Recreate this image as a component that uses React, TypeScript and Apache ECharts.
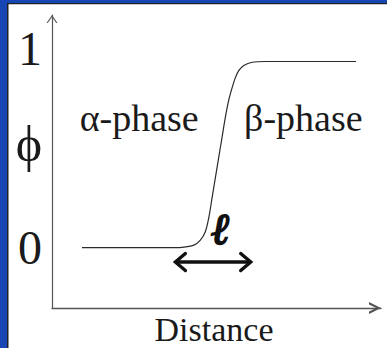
import React, { useEffect, useRef } from 'react';
import * as echarts from 'echarts';

// Order-parameter profile across the α/β interface
const distance = [9.1, 37.5, 39.5, 43.1, 45.1, 46.6, 47.7, 48.7, 49.7, 50.7, 51.7, 52.7, 53.7, 54.8, 55.8, 56.8, 58.3, 60.9, 64.9, 92.4];
const phi = [0, 0, 0.001, 0.013, 0.04, 0.085, 0.165, 0.272, 0.38, 0.487, 0.594, 0.701, 0.791, 0.862, 0.916, 0.952, 0.979, 0.996, 1, 1];
const phiTicks = [0, 1];
const phaseNames = ['α-phase', 'β-phase'];
const phaseAt = [26.5, 76.4]; // distance where each phase name sits
const interfaceSpan = [37.5, 60.4]; // extent of the interface width ℓ

const SERIF = 'Liberation Serif';
const INK = '#1a1a1a';
const AXIS = '#555';

export default function App() {
  const ref = useRef<HTMLDivElement>(null);

  useEffect(() => {
    document.body.style.margin = '0';
    const chart = echarts.init(ref.current!, null, { renderer: 'svg' });
    chart.setOption({
      animation: false,
      backgroundColor: '#fff',
      grid: { left: 52, right: 6, top: 15, bottom: 40, containLabel: false, outerBoundsMode: 'none' },
      xAxis: {
        type: 'value',
        min: 0,
        max: 100,
        name: 'Distance',
        nameLocation: 'middle',
        nameGap: 4,
        nameMoveOverlap: false,
        nameTextStyle: { fontFamily: SERIF, fontSize: 34, color: INK, padding: [0, 5, 0, 0] },
        axisLine: {
          onZero: false,
          lineStyle: { color: AXIS, width: 1.3 },
          symbol: ['none', 'path://M0,12 L6,0 L12,12 L9.4,12 L6,4.8 L2.6,12 Z'],
          symbolSize: [12, 12],
          symbolOffset: [0, -6],
        },
        axisTick: { show: false },
        axisLabel: { show: false },
        splitLine: { show: false },
      },
      yAxis: {
        type: 'value',
        min: -0.325,
        max: 1.25,
        name: '{p|ϕ}',
        nameLocation: 'middle',
        nameRotate: 0,
        nameGap: 10,
        nameMoveOverlap: false,
        nameTextStyle: {
          fontFamily: SERIF,
          fontSize: 50,
          color: INK,
          rich: { p: { fontFamily: SERIF, fontSize: 50, color: INK, padding: [0, 0, 36, 0] } },
        },
        axisLine: {
          onZero: false,
          lineStyle: { color: AXIS, width: 1.2 },
          symbol: ['none', 'path://M0,8 L5.5,0 L11,8 L9.7,8 L5.5,1.9 L1.3,8 Z'],
          symbolSize: [11, 8],
          symbolOffset: [0, -4],
        },
        axisTick: { show: false },
        splitLine: { show: false },
        axisLabel: {
          customValues: phiTicks,
          margin: 10,
          formatter: (v: number) => (v === 1 ? '{hi|1}' : '{lo|0}'),
          rich: {
            hi: { fontFamily: SERIF, fontSize: 48, color: INK, padding: [0, 0, 27, 0] },
            lo: { fontFamily: SERIF, fontSize: 48, color: INK },
          },
        },
      },
      series: [
        {
          type: 'line',
          data: distance.map((d, i) => [d, phi[i]]),
          showSymbol: false,
          smooth: 0.3,
          lineStyle: { color: '#2a2a2a', width: 1.2 },
        },
      ],
    });

    const px = (x: number, y: number) => chart.convertToPixel({ gridIndex: 0 }, [x, y]) as number[];

    const [ax, ay] = px(interfaceSpan[0], -0.078);
    const [bx] = px(interfaceSpan[1], -0.078);
    const head = 10;
    const spread = 8.5;
    const ell = px((interfaceSpan[0] + interfaceSpan[1]) / 2 + 2.4, 0.1);

    chart.setOption({
      graphic: [
        // slide frame
        { type: 'rect', shape: { x: 0, y: 0, width: 7, height: 348 }, style: { fill: '#1746b4' }, silent: true },
        { type: 'rect', shape: { x: 0, y: 0, width: 387, height: 3 }, style: { fill: '#1746b4' }, silent: true },
        { type: 'rect', shape: { x: 7, y: 3, width: 1.5, height: 345 }, style: { fill: '#222' }, silent: true },
        { type: 'rect', shape: { x: 7, y: 3, width: 380, height: 1.2 }, style: { fill: '#222' }, silent: true },
        // phase names
        ...phaseNames.map((t, i) => {
          const [x, y] = px(phaseAt[i], 0.697);
          return {
            type: 'text',
            x,
            y,
            silent: true,
            style: { text: t, fontFamily: SERIF, fontSize: 38, fill: INK, textAlign: 'center', textVerticalAlign: 'middle' },
          };
        }),
        // interface width ℓ
        {
          type: 'text',
          x: ell[0],
          y: ell[1],
          silent: true,
          style: {
            text: 'ℓ',
            fontFamily: 'DejaVu Serif',
            fontWeight: 'bold',
            fontStyle: 'italic',
            fontSize: 44,
            fill: '#111',
            stroke: '#111',
            lineWidth: 1.8,
            textAlign: 'center',
            textVerticalAlign: 'middle',
          },
        },
        {
          type: 'line',
          shape: { x1: ax + 1, y1: ay, x2: bx - 1, y2: ay },
          style: { stroke: '#111', lineWidth: 3.4 },
          silent: true,
        },
        {
          type: 'polyline',
          shape: { points: [[ax + head, ay - spread], [ax, ay], [ax + head, ay + spread]] },
          style: { stroke: '#111', lineWidth: 3.4, fill: 'none', lineJoin: 'miter', lineCap: 'round' },
          silent: true,
        },
        {
          type: 'polyline',
          shape: { points: [[bx - head, ay - spread], [bx, ay], [bx - head, ay + spread]] },
          style: { stroke: '#111', lineWidth: 3.4, fill: 'none', lineJoin: 'miter', lineCap: 'round' },
          silent: true,
        },
      ],
    });

    return () => chart.dispose();
  }, []);

  return <div ref={ref} style={{ width: 387, height: 348 }} />;
}
